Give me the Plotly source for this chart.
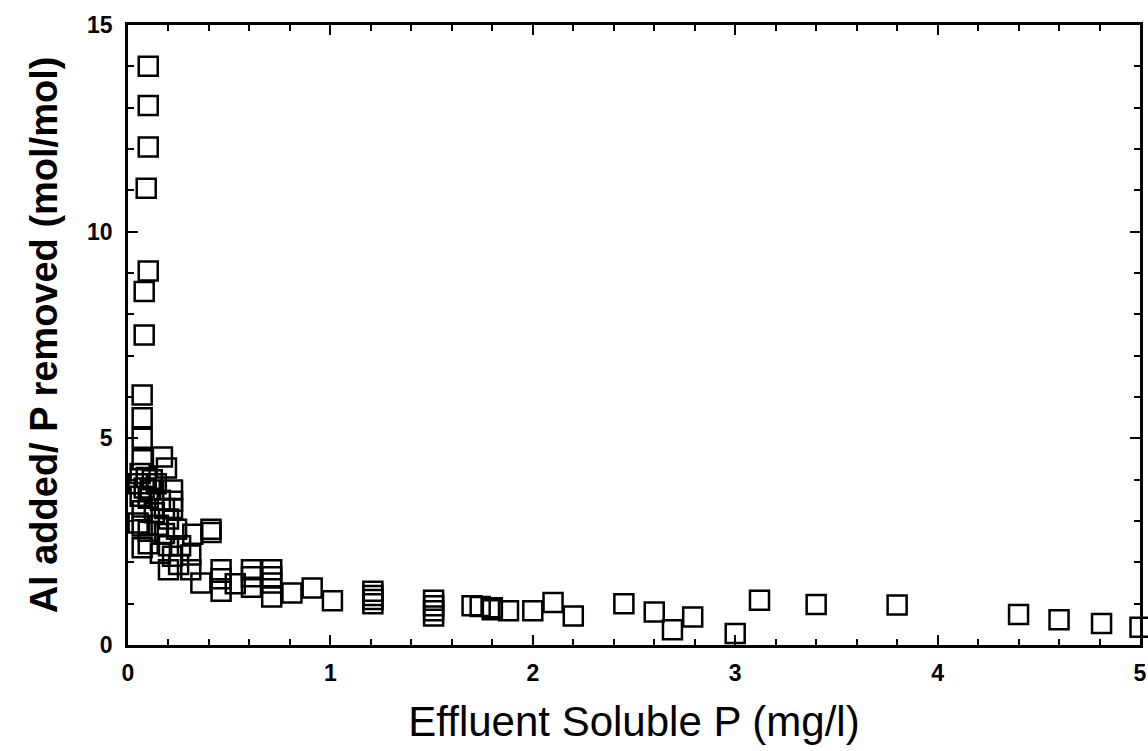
import plotly.graph_objects as go

# Effluent soluble P (mg/l)
effluent_p = [
    0.10, 0.10, 0.10, 0.09, 0.10, 0.08, 0.08, 0.07, 0.07, 0.07,
    0.17, 0.07, 0.19,
    0.06, 0.09, 0.12, 0.05, 0.08, 0.11, 0.14, 0.06, 0.10, 0.22, 0.16, 0.22,
    0.07, 0.13, 0.18, 0.22, 0.20, 0.07, 0.10, 0.15, 0.05, 0.18, 0.24,
    0.32, 0.41, 0.41, 0.10, 0.07, 0.16, 0.22, 0.20, 0.26, 0.31, 0.20, 0.31,
    0.25, 0.36, 0.46, 0.46, 0.46, 0.53, 0.61, 0.61, 0.61, 0.71, 0.71, 0.71,
    0.71, 0.81, 0.91, 1.01,
    1.21, 1.21, 1.21, 1.21,
    1.51, 1.51, 1.51, 1.51,
    1.70, 1.74, 1.80, 1.80, 1.88, 2.00, 2.10, 2.20, 2.45, 2.60, 2.69, 2.79,
    3.00, 3.12, 3.40, 3.80, 4.40, 4.60, 4.81, 5.00,
]
# Al added / P removed (mol/mol)
al_p_ratio = [
    14.0, 13.05, 12.05, 11.05, 9.05, 8.55, 7.5, 6.05, 5.5, 5.0,
    4.55, 4.48, 4.28,
    4.15, 4.05, 4.0, 3.9, 3.8, 3.75, 3.9, 3.6, 3.55, 3.75, 3.5, 3.48,
    3.25, 3.2, 3.3, 3.3, 3.05, 2.88, 2.75, 2.9, 2.95, 2.7, 2.8,
    2.68, 2.8, 2.72, 2.45, 2.35, 2.22, 2.15, 2.4, 2.4, 2.18, 1.82, 1.82,
    1.95, 1.5, 1.82, 1.6, 1.3, 1.48, 1.82, 1.65, 1.4, 1.82, 1.65, 1.5,
    1.16, 1.26, 1.38, 1.07,
    1.3, 1.2, 1.1, 1.0,
    1.08, 0.95, 0.83, 0.7,
    0.95, 0.93, 0.9, 0.85, 0.83, 0.83, 1.03, 0.7, 1.0, 0.8, 0.37, 0.68,
    0.28, 1.08, 0.98, 0.97, 0.74, 0.61, 0.52, 0.43,
]

x_range = [0, 5]
y_range = [0, 15]
x_major_step = 1
y_major_step = 5

fig = go.Figure()
fig.add_trace(go.Scatter(
    x=effluent_p, y=al_p_ratio, mode="markers",
    marker=dict(symbol="square-open", size=19, color="black",
                line=dict(width=2.5, color="black")),
    cliponaxis=False, showlegend=False,
))

tick_font = dict(family="Liberation Sans", size=23, color="black", weight="bold")

fig.update_xaxes(
    range=x_range, tickmode="linear", tick0=0, dtick=x_major_step,
    showline=True, linecolor="black", linewidth=2.5, mirror="allticks",
    ticks="inside", ticklen=10, tickwidth=2, tickcolor="black",
    showgrid=False, zeroline=False, tickfont=tick_font, ticklabelstandoff=6,
    minor=dict(ticks="inside", dtick=0.2, ticklen=6, tickwidth=1.5,
               tickcolor="black", showgrid=False),
    title=dict(text="Effluent Soluble P (mg/l)", standoff=22,
               font=dict(family="Liberation Sans", size=42, color="black")),
)
fig.update_yaxes(
    range=y_range, tickmode="linear", tick0=0, dtick=y_major_step,
    showline=True, linecolor="black", linewidth=2.5, mirror="allticks",
    ticks="inside", ticklen=10, tickwidth=2, tickcolor="black",
    showgrid=False, zeroline=False, tickfont=tick_font, ticklabelstandoff=8,
    minor=dict(ticks="inside", dtick=1, ticklen=6, tickwidth=1.5,
               tickcolor="black", showgrid=False),
    title=dict(text="Al added/ P removed (mol/mol)", standoff=18,
               font=dict(family="Liberation Sans", size=38, color="black", weight="bold")),
)

fig.update_layout(
    template="none",
    width=1148, height=751,
    margin=dict(l=128, r=8, t=25, b=106),
    paper_bgcolor="white", plot_bgcolor="white",
)

fig.write_html("out.html")
